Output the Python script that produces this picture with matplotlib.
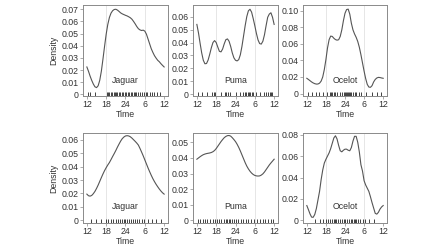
import numpy as np
import matplotlib
matplotlib.use("Agg")
import matplotlib.pyplot as plt
import matplotlib.transforms as mtransforms

plt.rcParams['font.family'] = ['Liberation Sans', 'DejaVu Sans']

hours = np.arange(12, 36.01, 0.5)
tick_pos = [12, 18, 24, 30, 36]
tick_labels = ["12", "18", "24", "6", "12"]

species = ["Jaguar", "Puma", "Ocelot", "Jaguar", "Puma", "Ocelot"]

jaguar_top = [.0225, .0190, .0150, .0115, .0085, .0062, .0055, .0070, .0115, .0190,
              .0290, .0395, .0495, .0575, .0632, .0668, .0688, .0698, .0700, .0693,
              .0682, .0670, .0662, .0656, .0650, .0645, .0638, .0630, .0618, .0600,
              .0580, .0558, .0540, .0530, .0525, .0528, .0520, .0495, .0455, .0415,
              .0375, .0345, .0318, .0298, .0280, .0268, .0252, .0238, .0225]
puma_top = [.0540, .0475, .0395, .0320, .0263, .0236, .0238, .0265, .0310, .0360,
            .0400, .0415, .0400, .0365, .0332, .0328, .0350, .0390, .0422, .0428,
            .0410, .0370, .0320, .0282, .0263, .0258, .0268, .0305, .0370, .0450,
            .0530, .0600, .0645, .0657, .0635, .0585, .0530, .0470, .0420, .0392,
            .0388, .0410, .0460, .0530, .0595, .0620, .0630, .0595, .0540]
ocelot_top = [.0184, .0170, .0155, .0140, .0128, .0119, .0114, .0115, .0125, .0150,
              .0200, .0290, .0410, .0550, .0650, .0694, .0690, .0668, .0652, .0645,
              .0650, .0690, .0770, .0880, .0970, .1015, .1020, .0960, .0850, .0770,
              .0720, .0680, .0630, .0560, .0470, .0370, .0270, .0180, .0110, .0078,
              .0075, .0095, .0140, .0170, .0188, .0195, .0193, .0188, .0184]
jaguar_bottom = [.0195, .0183, .0180, .0185, .0198, .0215, .0237, .0262, .0290, .0318,
                 .0345, .0370, .0392, .0412, .0430, .0452, .0475, .0497, .0520, .0545,
                 .0568, .0590, .0608, .0620, .0628, .0630, .0628, .0622, .0612, .0600,
                 .0588, .0575, .0560, .0535, .0508, .0480, .0450, .0420, .0390, .0362,
                 .0335, .0310, .0288, .0268, .0250, .0233, .0218, .0205, .0195]
puma_bottom = [.0392, .0400, .0408, .0415, .0421, .0425, .0428, .0430, .0432, .0435,
               .0440, .0448, .0460, .0475, .0490, .0505, .0518, .0530, .0538, .0543,
               .0544, .0540, .0530, .0518, .0505, .0488, .0468, .0445, .0420, .0395,
               .0370, .0348, .0330, .0315, .0303, .0294, .0288, .0285, .0284, .0285,
               .0290, .0298, .0310, .0325, .0340, .0355, .0368, .0380, .0392]
ocelot_bottom = [.0138, .0100, .0060, .0030, .0028, .0055, .0110, .0190, .0270, .0380,
                 .0470, .0535, .0570, .0600, .0630, .0670, .0720, .0770, .0790, .0760,
                 .0700, .0650, .0640, .0655, .0665, .0665, .0655, .0650, .0680, .0740,
                 .0785, .0785, .0730, .0640, .0520, .0460, .0370, .0330, .0300, .0270,
                 .0220, .0165, .0115, .0065, .0058, .0075, .0105, .0125, .0138]

rug_jaguar_top = [12.2, 13.0, 14.6, 18.1, 18.6, 19.0, 19.4, 19.9, 20.3, 20.8, 21.2, 21.5,
                  22.0, 22.4, 22.9, 23.3, 23.8, 24.2, 24.7, 25.1, 25.6, 26.0, 26.5, 27.0,
                  27.4, 27.9, 28.5, 29.0, 29.6, 30.3, 30.8, 31.5, 32.2, 33.0, 33.8, 34.6]
rug_puma_top = [12.4, 13.5, 15.2, 16.8, 17.3, 17.7, 19.5, 20.6, 21.2, 21.7, 22.3, 24.1,
                25.5, 26.3, 26.9, 27.4, 27.8, 28.2, 28.6, 29.1, 29.5, 30.4, 31.6, 32.8,
                33.5, 34.2, 34.6, 35.0, 35.4]
rug_ocelot_top = [12.5, 13.6, 14.8, 15.9, 17.0, 18.4, 19.2, 19.6, 20.0, 20.4, 21.0, 21.6,
                  22.3, 23.1, 23.6, 24.0, 24.3, 24.6, 24.9, 25.2, 25.5, 25.9, 26.4, 27.0,
                  27.6, 28.3, 29.0, 30.5, 32.5, 34.0, 35.3]
rug_jaguar_bottom = [13.2, 14.9, 16.4, 17.8, 18.6, 19.5, 20.2, 21.0, 21.7, 22.3, 22.8,
                     23.4, 24.0, 24.5, 25.1, 25.7, 26.3, 27.0, 27.5, 28.2, 29.0, 29.8,
                     31.0, 32.3, 33.6, 35.0]
rug_puma_bottom = [12.3, 13.0, 13.8, 14.6, 15.3, 16.1, 16.9, 17.6, 18.4, 19.0, 19.6, 20.3,
                   20.9, 21.4, 21.9, 22.4, 23.0, 23.6, 24.2, 24.9, 25.6, 26.4, 27.2, 28.0,
                   28.9, 29.8, 30.7, 31.6, 32.5, 33.3, 34.1, 35.0, 35.7]
rug_ocelot_bottom = [14.6, 16.0, 17.1, 18.0, 18.7, 19.3, 19.9, 20.4, 20.8, 21.3, 21.8,
                     22.4, 23.0, 23.6, 24.1, 24.7, 25.3, 25.8, 26.3, 26.8, 27.2, 27.6,
                     28.1, 28.7, 29.5, 30.3, 31.5, 33.0]

curves = [jaguar_top, puma_top, ocelot_top, jaguar_bottom, puma_bottom, ocelot_bottom]
rugs = [rug_jaguar_top, rug_puma_top, rug_ocelot_top,
        rug_jaguar_bottom, rug_puma_bottom, rug_ocelot_bottom]
yticks = [np.arange(0, 0.071, 0.01), np.arange(0, 0.061, 0.01), np.arange(0, 0.101, 0.02),
          np.arange(0, 0.061, 0.01), np.arange(0, 0.051, 0.01), np.arange(0, 0.081, 0.02)]
ytick_labels = [["0", "0.01", "0.02", "0.03", "0.04", "0.05", "0.06", "0.07"],
                ["0", "0.01", "0.02", "0.03", "0.04", "0.05", "0.06"],
                ["0", "0.02", "0.04", "0.06", "0.08", "0.10"],
                ["0", "0.01", "0.02", "0.03", "0.04", "0.05", "0.06"],
                ["0", "0.01", "0.02", "0.03", "0.04", "0.05"],
                ["0", "0.02", "0.04", "0.06", "0.08"]]
ylims = [(-0.0014, 0.0735), (-0.0013, 0.069), (-0.003, 0.107),
         (-0.002, 0.065), (-0.0017, 0.056), (-0.0025, 0.0816)]

W, H = 445, 249
fig = plt.figure(figsize=(W / 100, H / 100), dpi=100)
lefts = [83, 193, 303]
widths = [85, 85, 84]
tops = [5, 133]
heights = [91, 90]

frame_col = "#8a8a8a"
text_col = "#333333"

for i in range(6):
    r, c = divmod(i, 3)
    ax = fig.add_axes([lefts[c] / W, 1 - (tops[r] + heights[r]) / H,
                       widths[c] / W, heights[r] / H])
    ax.axvline(18, color="#e2e2e2", lw=0.6, zorder=0)
    ax.axvline(30, color="#e2e2e2", lw=0.6, zorder=0)
    ax.plot(hours, curves[i], color="#555555", lw=0.8)
    trans = mtransforms.blended_transform_factory(ax.transData, ax.transAxes)
    ax.vlines(rugs[i], 0, 0.04, transform=trans, color="#222222", lw=0.6)
    ax.set_xlim(10.8, 37.2)
    ax.set_ylim(*ylims[i])
    ax.set_xticks(tick_pos)
    ax.set_xticklabels(tick_labels)
    ax.set_yticks(yticks[i])
    ax.set_yticklabels(ytick_labels[i])
    ax.tick_params(labelsize=6.3, length=2, width=0.5, color=frame_col,
                   labelcolor=text_col, pad=1.2)
    for s in ax.spines.values():
        s.set_color(frame_col)
        s.set_linewidth(0.7)
    ax.set_xlabel("Time", fontsize=6.3, color=text_col, labelpad=0.5)
    if c == 0:
        ax.set_ylabel("Density", fontsize=6.3, color=text_col, labelpad=2)
    ax.text(0.5, 0.17 if r == 0 else 0.185, species[i], transform=ax.transAxes,
            ha="center", va="center", fontsize=6.3, color=text_col)

fig.savefig("out.png", dpi=100)
